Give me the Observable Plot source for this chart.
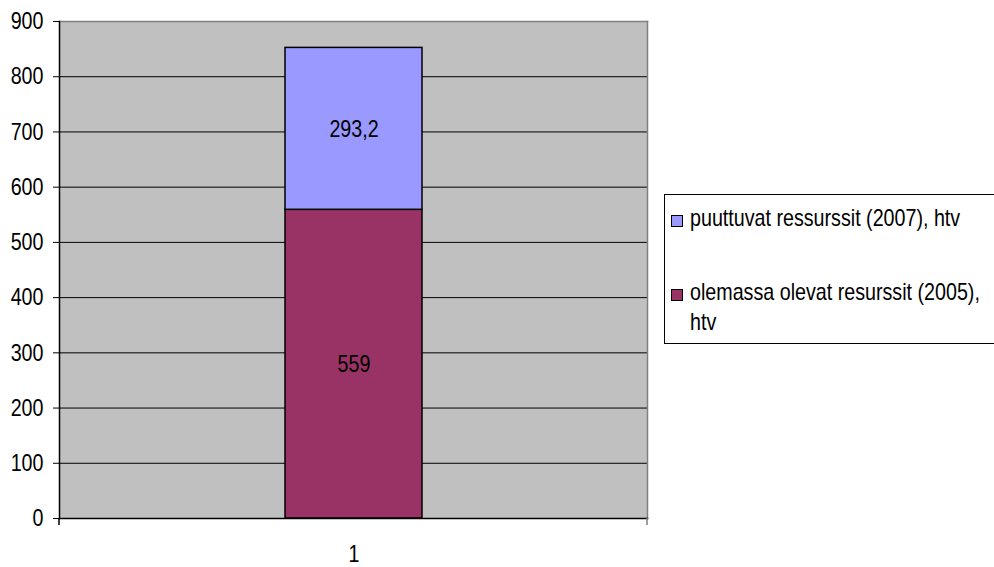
<!DOCTYPE html>
<html>
<head>
<meta charset="utf-8">
<script src="https://cdn.jsdelivr.net/npm/d3@7"></script>
<script src="https://cdn.jsdelivr.net/npm/@observablehq/plot@0.6"></script>
<style>
  body { margin: 0; background: #fff; }
  #wrap { position: relative; width: 994px; height: 567px; overflow: hidden;
          font-family: "Liberation Sans", Arial, sans-serif; }
  #legend { position: absolute; left: 664px; top: 194px; width: 340px; height: 150px;
            border: 1px solid #000; background: #fff; box-sizing: border-box; font-size: 24px; color: #000; }
  .item { position: absolute; left: 6px; display: flex; align-items: flex-start; line-height: 30px; white-space: nowrap; }
  .sw { width: 12px; height: 12px; border: 1px solid #000; box-sizing: border-box; margin-top: 12px; margin-right: 7px; flex: none; }
  .lbl { transform: scaleX(0.82); transform-origin: left center; }
  svg text { font-family: "Liberation Sans", Arial, sans-serif; }
</style>
</head>
<body>
<div id="wrap"></div>
<script>
// Data
const categories = ["1"];
const seriesNames = ["olemassa olevat resurssit (2005), htv", "puuttuvat ressurssit (2007), htv"];
const seriesValues = [559, 293.2];
const seriesColors = ["#993366", "#9999FF"];
const yTicks = [0, 100, 200, 300, 400, 500, 600, 700, 800, 900];

const data = seriesNames.map((s, i) => ({cat: categories[0], series: s, value: seriesValues[i]}));
const fmt = v => String(v).replace(".", ",");
const squeeze = 0.82;

const bandTicks = (index, scales, values, dims) => {
  const g = d3.create("svg:g");
  const y0 = dims.height - dims.marginBottom;
  [[dims.marginLeft, "#000"], [dims.width - dims.marginRight, "#808080"]].forEach(([x, c]) => {
    g.append("line").attr("x1", x).attr("x2", x).attr("y1", y0).attr("y2", y0 + 7)
      .attr("stroke", c).attr("stroke-width", 1.5);
  });
  return g.node();
};

const chart = Plot.plot({
  width: 994,
  height: 567,
  marginLeft: 59,
  marginRight: 347,
  marginTop: 21,
  marginBottom: 49,
  style: {background: "transparent", fontSize: "24px", color: "#000"},
  x: {type: "band", domain: categories, padding: 0.622, label: null},
  y: {domain: [0, 900], ticks: yTicks, label: null},
  color: {domain: seriesNames, range: seriesColors},
  marks: [
    Plot.frame({fill: "#c0c0c0", stroke: null}),
    Plot.gridY(yTicks, {stroke: "#000", strokeOpacity: 1, strokeWidth: 1}),
    Plot.frame({anchor: "top", stroke: "#808080", strokeWidth: 1.5}),
    Plot.frame({anchor: "right", stroke: "#808080", strokeWidth: 1.5}),
    Plot.barY(data, {x: "cat", y: "value", fill: "series", stroke: "#000", strokeWidth: 1.5}),
    Plot.text(data, Plot.stackY({x: "cat", y: "value", text: d => fmt(d.value), fill: "#000", fontSize: 24})),
    Plot.frame({anchor: "left", stroke: "#000", strokeWidth: 1.5}),
    Plot.frame({anchor: "bottom", stroke: "#000", strokeWidth: 1.5}),
    Plot.axisY({ticks: yTicks, tickSize: 6, tickPadding: 10, fontSize: 24, stroke: "#000"}),
    Plot.axisX({tickSize: 0, tickPadding: 26, fontSize: 24}),
    bandTicks
  ]
});
document.getElementById("wrap").appendChild(chart);

// Narrow the lettering horizontally (Arial Narrow look) without moving anchors
d3.select(chart).selectAll("text").each(function () {
  const len = this.getComputedTextLength();
  if (len > 0) {
    this.setAttribute("textLength", (len * squeeze).toFixed(2));
    this.setAttribute("lengthAdjust", "spacingAndGlyphs");
  }
});

// Legend (top: puuttuvat, bottom: olemassa)
const legend = d3.select("#wrap").append("div").attr("id", "legend");
const order = [1, 0];
const tops = [8, 82];
order.forEach((si, k) => {
  const it = legend.append("div").attr("class", "item").style("top", tops[k] + "px");
  it.append("div").attr("class", "sw").style("background", seriesColors[si]);
  const label = seriesNames[si];
  if (si === 0) {
    const parts = label.split(", ");
    it.append("div").attr("class", "lbl").html(parts[0] + ",<br>" + parts[1]);
  } else {
    it.append("div").attr("class", "lbl").text(label);
  }
});
</script>
</body>
</html>
